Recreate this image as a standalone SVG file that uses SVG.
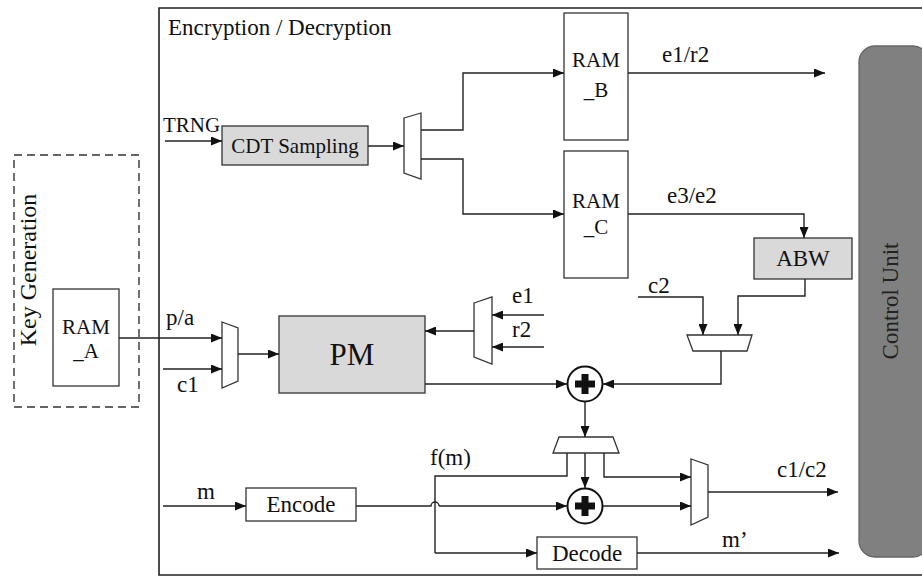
<svg xmlns="http://www.w3.org/2000/svg" width="922" height="577" viewBox="0 0 922 577">
<defs>
<marker id="ah" markerUnits="userSpaceOnUse" markerWidth="11" markerHeight="9" refX="11" refY="4.5" orient="auto">
<path d="M0,0 L11,4.5 L0,9 z" fill="#111"/>
</marker>
<style>
text{font-family:"Liberation Serif","Times New Roman",serif}
.box{fill:#fff;stroke:#333;stroke-width:1.3}
.gray{fill:#d9d9d9;stroke:#333;stroke-width:1.3}
.mux{fill:#fff;stroke:#333;stroke-width:1.3}
.w{fill:none;stroke:#222;stroke-width:1.4}
.a{fill:none;stroke:#222;stroke-width:1.4;marker-end:url(#ah)}
.mid{text-anchor:middle}
</style>
</defs>
<rect width="922" height="577" fill="#fff"/>
<g id="frame">
<path d="M930,8 L159,8 L159,575 L930,575" fill="none" stroke="#222" stroke-width="1.6"/>
<text x="168" y="35" font-size="23" fill="#111">Encryption / Decryption</text>
</g>
<g id="keygen">
<rect x="14" y="155" width="125" height="252" fill="none" stroke="#333" stroke-width="1.4" stroke-dasharray="8,5"/>
<text transform="translate(36,270) rotate(-90)" class="mid" font-size="24" fill="#111">Key Generation</text>
</g>
<g id="ram_a" font-size="21" fill="#111">
<rect class="box" x="53" y="289" width="66" height="97"/>
<text class="mid" x="86" y="334">RAM</text>
<text class="mid" x="86" y="358">_A</text>
</g>
<g id="control_unit">
<rect x="859" y="46" width="70" height="511" rx="16" fill="#808080" stroke="#666" stroke-width="1.3"/>
<text transform="translate(898,301) rotate(-90)" class="mid" font-size="23" fill="#222">Control Unit</text>
</g>
<g id="cdt">
<rect class="gray" x="222" y="126" width="146" height="39"/>
<text class="mid" x="295" y="153" font-size="21" fill="#111">CDT Sampling</text>
</g>
<g id="mux_cdt"><path class="mux" d="M404,118 L421,113 L421,179 L404,173 z"/></g>
<g id="ram_b" font-size="21" fill="#111">
<rect class="box" x="564" y="13" width="64" height="127"/>
<text class="mid" x="596" y="67">RAM</text>
<text class="mid" x="596" y="97">_B</text>
</g>
<g id="ram_c" font-size="21" fill="#111">
<rect class="box" x="564" y="151" width="64" height="127"/>
<text class="mid" x="596" y="208">RAM</text>
<text class="mid" x="596" y="234">_C</text>
</g>
<g id="abw">
<rect class="gray" x="754" y="238" width="98" height="41"/>
<text class="mid" x="803" y="266" font-size="23" fill="#111">ABW</text>
</g>
<g id="mux_abw"><path class="mux" d="M687,335 L752,335 L747,351 L693,351 z"/></g>
<g id="mux_pa"><path class="mux" d="M222,322 L238,328 L238,381 L222,388 z"/></g>
<g id="pm">
<rect class="gray" x="279" y="316" width="146" height="77"/>
<text class="mid" x="352" y="365" font-size="31" fill="#111">PM</text>
</g>
<g id="mux_e1r2"><path class="mux" d="M474,303 L492,297 L492,364 L474,357 z"/></g>
<g id="add1">
<circle cx="585" cy="384" r="17.5" fill="#fff" stroke="#111" stroke-width="2"/>
<rect x="575" y="380.5" width="20" height="7" fill="#111"/>
<rect x="581.5" y="374" width="7" height="20" fill="#111"/>
</g>
<g id="demux"><path class="mux" d="M559,437 L613,437 L619,453 L553,453 z"/></g>
<g id="add2">
<circle cx="585" cy="506" r="17.5" fill="#fff" stroke="#111" stroke-width="2"/>
<rect x="575" y="502.5" width="20" height="7" fill="#111"/>
<rect x="581.5" y="496" width="7" height="20" fill="#111"/>
</g>
<g id="mux_out"><path class="mux" d="M691,459 L708,465 L708,517 L691,525 z"/></g>
<g id="encode">
<rect class="box" x="246" y="488" width="110" height="33"/>
<text class="mid" x="301" y="512" font-size="23" fill="#111">Encode</text>
</g>
<g id="decode">
<rect class="box" x="537" y="537" width="100" height="32"/>
<text class="mid" x="587" y="561" font-size="23" fill="#111">Decode</text>
</g>
<g id="connectors">
<path class="a" d="M165,141 L222,141"/>
<path class="a" d="M368,146 L404,146"/>
<path class="a" d="M421,130 L463,130 L463,73 L564,73"/>
<path class="a" d="M421,159 L463,159 L463,214 L564,214"/>
<path class="a" d="M628,73 L825,73"/>
<path class="a" d="M628,214 L804,214 L804,238"/>
<path class="a" d="M805,279 L805,296 L738,296 L738,335"/>
<path class="a" d="M638,297 L703,297 L703,335"/>
<path class="a" d="M721,351 L721,384 L603,384"/>
<path class="a" d="M119,338 L222,338"/>
<path class="a" d="M163,369 L222,369"/>
<path class="a" d="M238,354 L279,354"/>
<path class="a" d="M474,331 L425,331"/>
<path class="a" d="M544,315 L492,315"/>
<path class="a" d="M544,347 L492,347"/>
<path class="a" d="M425,384 L567,384"/>
<path class="a" d="M585,402 L585,437"/>
<path class="a" d="M585,453 L585,488"/>
<path class="w" d="M567,453 L567,476 L435,476 L435,553"/>
<path class="a" d="M435,553 L537,553"/>
<path class="a" d="M604,453 L604,477 L691,477"/>
<path class="a" d="M603,506 L691,506"/>
<path class="a" d="M708,492 L838,492"/>
<path class="a" d="M637,553 L839,553"/>
<path class="a" d="M163,506 L246,506"/>
<path class="w" d="M356,506 L431,506 A4,4 0 0 1 439,506"/>
<path class="a" d="M439,506 L567,506"/>
</g>
<g id="labels" font-size="23" fill="#111">
<text x="163" y="132" font-size="21">TRNG</text>
<text x="662" y="62">e1/r2</text>
<text x="667" y="203">e3/e2</text>
<text x="648" y="293">c2</text>
<text x="512" y="303">e1</text>
<text x="512" y="337">r2</text>
<text x="166" y="325">p/a</text>
<text x="177" y="392">c1</text>
<text x="430" y="465">f(m)</text>
<text x="197" y="499">m</text>
<text x="777" y="477">c1/c2</text>
<text x="722" y="547">m’</text>
</g>
</svg>
